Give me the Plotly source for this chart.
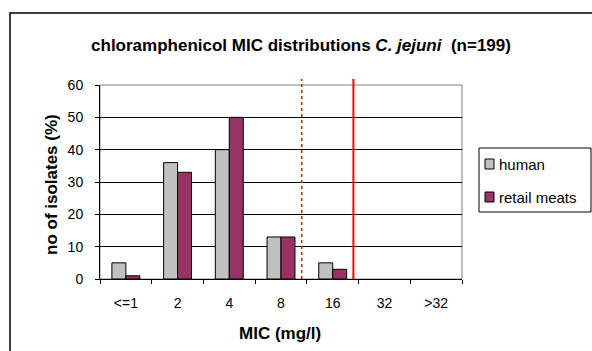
import plotly.graph_objects as go

# MIC categories and percentage of isolates per category
mic_labels = ["<=1", "2", "4", "8", "16", "32", ">32"]
human_pct = [5, 36, 40, 13, 5, 0, 0]
retail_pct = [1, 33, 50, 13, 3, 0, 0]
series_names = ["human", "retail meats"]
y_tick_values = [0, 10, 20, 30, 40, 50, 60]

# cut-off markers, in category units along the x axis
ecoff_pos = 3.4
breakpoint_pos = 4.4

HUMAN_COLOR = "#C0C0C0"
RETAIL_COLOR = "#993366"
FONT = "Liberation Sans, Arial, sans-serif"

W, H = 592, 351
M_L, M_R, M_T, M_B = 100, 130, 85, 72
PW, PH = W - M_L - M_R, H - M_T - M_B


def px_x(x):
    return (x - M_L) / PW


def px_y(y):
    return (H - M_B - y) / PH


fig = go.Figure()
for name, vals, color in [(series_names[0], human_pct, HUMAN_COLOR),
                          (series_names[1], retail_pct, RETAIL_COLOR)]:
    # empty categories get no outline, so nothing is drawn for them
    outline = [1 if v > 0 else 0 for v in vals]
    fig.add_trace(go.Bar(
        x=mic_labels, y=vals, name=name, showlegend=False,
        marker=dict(color=color, line=dict(color="black", width=outline)),
    ))

shapes = [
    # grey plot-area border (top / right), under the black axis lines
    dict(type="rect", xref="x domain", yref="y domain", x0=0, x1=1, y0=0, y1=1,
         line=dict(color="#808080", width=1), layer="below"),
    # cut-off lines
    dict(type="line", xref="x", yref="y domain", x0=ecoff_pos, x1=ecoff_pos,
         y0=0, y1=1.031, line=dict(color="#FF0000", width=1.5, dash="dot"), layer="above"),
    dict(type="line", xref="x", yref="y domain", x0=breakpoint_pos, x1=breakpoint_pos,
         y0=0, y1=1.031, line=dict(color="#FF0000", width=2), layer="above"),
    # chart frame
    dict(type="rect", xref="paper", yref="paper", x0=px_x(10), x1=px_x(640),
         y0=px_y(400), y1=px_y(13), line=dict(color="black", width=1.5), layer="above"),
    # legend box and swatches
    dict(type="rect", xref="paper", yref="paper", x0=px_x(479), x1=px_x(591),
         y0=px_y(212), y1=px_y(148), line=dict(color="black", width=1),
         fillcolor="white", layer="above"),
    dict(type="rect", xref="paper", yref="paper", x0=px_x(485), x1=px_x(494),
         y0=px_y(169), y1=px_y(159), line=dict(color="black", width=1),
         fillcolor=HUMAN_COLOR, layer="above"),
    dict(type="rect", xref="paper", yref="paper", x0=px_x(485), x1=px_x(494),
         y0=px_y(202), y1=px_y(192), line=dict(color="black", width=1),
         fillcolor=RETAIL_COLOR, layer="above"),
]

annotations = [
    dict(text="<b>no of isolates (%)</b>", xref="paper", yref="paper",
         x=px_x(51), y=px_y(185), textangle=-90, showarrow=False,
         font=dict(family=FONT, size=17, color="black"), xanchor="center", yanchor="middle"),
    dict(text="<b>MIC (mg/l)</b>", xref="paper", yref="paper",
         x=px_x(280), y=px_y(333), showarrow=False,
         font=dict(family=FONT, size=17, color="black"), xanchor="center", yanchor="middle"),
    dict(text=series_names[0], xref="paper", yref="paper", x=px_x(497), y=px_y(164),
         showarrow=False, xanchor="left", yanchor="middle",
         font=dict(family=FONT, size=15, color="black")),
    dict(text=series_names[1], xref="paper", yref="paper", x=px_x(497), y=px_y(197),
         showarrow=False, xanchor="left", yanchor="middle",
         font=dict(family=FONT, size=15, color="black")),
]

fig.update_layout(
    width=W, height=H,
    margin=dict(l=M_L, r=M_R, t=M_T, b=M_B, autoexpand=False),
    paper_bgcolor="white", plot_bgcolor="white",
    barmode="group", bargap=0.46, bargroupgap=0,
    font=dict(family=FONT, size=14, color="black"),
    title=dict(
        text="<b>chloramphenicol MIC distributions <i>C. jejuni</i>  (n=199)</b>",
        x=301 / W, xref="container", xanchor="center",
        y=1 - 45 / H, yref="container", yanchor="middle",
        font=dict(family=FONT, size=17, color="black"),
    ),
    xaxis=dict(
        type="category", categoryorder="array", categoryarray=mic_labels,
        showline=True, linecolor="black", linewidth=1,
        ticks="outside", ticklen=4, tickcolor="black", tickson="boundaries",
        ticklabelstandoff=11, showgrid=False, zeroline=False,
        tickfont=dict(family=FONT, size=14, color="black"), fixedrange=True,
    ),
    yaxis=dict(
        range=[0, 60], tickvals=y_tick_values,
        showline=True, linecolor="black", linewidth=1,
        ticks="outside", ticklen=4, tickcolor="black",
        showgrid=True, gridcolor="black", gridwidth=1, zeroline=False,
        ticklabelstandoff=9,
        tickfont=dict(family=FONT, size=14, color="black"), fixedrange=True,
    ),
    shapes=shapes,
    annotations=annotations,
    showlegend=False,
)

fig.write_html("out.html")
